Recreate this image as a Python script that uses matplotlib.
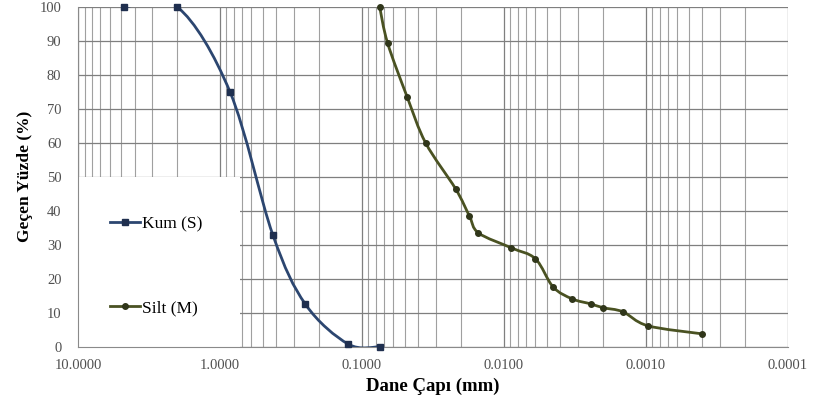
import numpy as np
import matplotlib.pyplot as plt
from matplotlib.path import Path
from matplotlib.patches import PathPatch, Rectangle
from matplotlib.lines import Line2D
from matplotlib.ticker import FixedLocator, FixedFormatter, LogLocator, NullFormatter

plt.rcParams['font.family'] = ['Liberation Serif', 'DejaVu Serif']

# Kum (S)
kum_d = [4.75, 2.0, 0.85, 0.425, 0.25, 0.125, 0.075]
kum_p = [100, 100, 75, 33, 12.5, 0.8, 0]

# Silt (M)
silt_d = [0.075, 0.066, 0.048, 0.0356, 0.0219, 0.0175, 0.0151, 0.00885, 0.0060,
          0.0045, 0.0033, 0.00243, 0.0020, 0.00145, 0.00097, 0.0004]
silt_p = [100, 89.4, 73.5, 60, 46.5, 38.5, 33.5, 29.1, 25.9,
          17.6, 14.1, 12.6, 11.5, 10.3, 6.2, 3.8]

x_ticks = [10, 1, 0.1, 0.01, 0.001, 0.0001]
x_labels = ['10.0000', '1.0000', '0.1000', '0.0100', '0.0010', '0.0001']
y_ticks = list(range(0, 101, 10))

kum_color = '#2C4670'
silt_color = '#4A5222'


def smooth_path(xs, ys):
    # Excel-like smoothed line: Catmull-Rom -> cubic Bezier, built in log-x space
    lx = np.log10(xs)
    pts = np.column_stack([lx, ys])
    n = len(pts)
    verts = [pts[0]]
    codes = [Path.MOVETO]
    for i in range(n - 1):
        p0 = pts[max(i - 1, 0)]
        p1 = pts[i]
        p2 = pts[i + 1]
        p3 = pts[min(i + 2, n - 1)]
        c1 = p1 + (p2 - p0) / 6.0
        c2 = p2 - (p3 - p1) / 6.0
        verts += [c1, c2, p2]
        codes += [Path.CURVE4] * 3
    verts = np.array(verts)
    verts[:, 0] = 10 ** verts[:, 0]
    return Path(verts, codes)


fig = plt.figure(figsize=(8.13, 4.08), dpi=100)
ax = fig.add_axes([0.096, 0.15, 0.873, 0.833])

ax.set_xscale('log')
ax.set_xlim(10, 0.0001)
ax.set_ylim(0, 100)

ax.xaxis.set_major_locator(FixedLocator(x_ticks))
ax.xaxis.set_major_formatter(FixedFormatter(x_labels))
ax.xaxis.set_minor_locator(LogLocator(base=10, subs=np.arange(2, 10)))
ax.xaxis.set_minor_formatter(NullFormatter())
ax.set_yticks(y_ticks)

ax.set_axisbelow(True)
ax.grid(True, which='major', axis='both', color='#7f7f7f', linewidth=0.9)
ax.grid(True, which='minor', axis='x', color='#a0a0a0', linewidth=0.8)
ax.tick_params(which='both', length=0, labelsize=10.5, colors='#505050')
ax.tick_params(axis='x', pad=9)
ax.tick_params(axis='y', pad=12)

for side in ['top', 'right']:
    ax.spines[side].set_visible(False)
for side in ['left', 'bottom']:
    ax.spines[side].set_color('#8a8a8a')

# legend background box
ax.add_patch(Rectangle((0, 0), 0.228, 0.5, transform=ax.transAxes,
                       facecolor='white', edgecolor='none', zorder=1.5))

ax.add_patch(PathPatch(smooth_path(kum_d, kum_p), facecolor='none',
                       edgecolor=kum_color, linewidth=2, zorder=3))
ax.add_patch(PathPatch(smooth_path(silt_d, silt_p), facecolor='none',
                       edgecolor=silt_color, linewidth=2, zorder=3))
ax.plot(kum_d, kum_p, linestyle='none', marker='s', markersize=5,
        color='#1F2F4F', zorder=4, clip_on=False)
ax.plot(silt_d, silt_p, linestyle='none', marker='o', markersize=4,
        color='#30361A', zorder=4, clip_on=False)

handles = [Line2D([], [], color=kum_color, linewidth=2, marker='s', markersize=5,
                  markerfacecolor='#1F2F4F', markeredgecolor='#1F2F4F'),
           Line2D([], [], color=silt_color, linewidth=2, marker='o', markersize=4,
                  markerfacecolor='#30361A', markeredgecolor='#30361A')]
ax.legend(handles, ['Kum (S)', 'Silt (M)'], loc='upper left',
          bbox_to_anchor=(0.045, 0.385), frameon=False, borderpad=0,
          borderaxespad=0, labelspacing=3.9, handlelength=1.7,
          handletextpad=0.15, prop={'size': 12.5})

ax.set_xlabel('Dane Çapı (mm)', fontsize=13.5, fontweight='bold', labelpad=4)
ax.set_ylabel('Geçen Yüzde (%)', fontsize=12.5, fontweight='bold', labelpad=5)

fig.savefig('out.png', dpi=100)
